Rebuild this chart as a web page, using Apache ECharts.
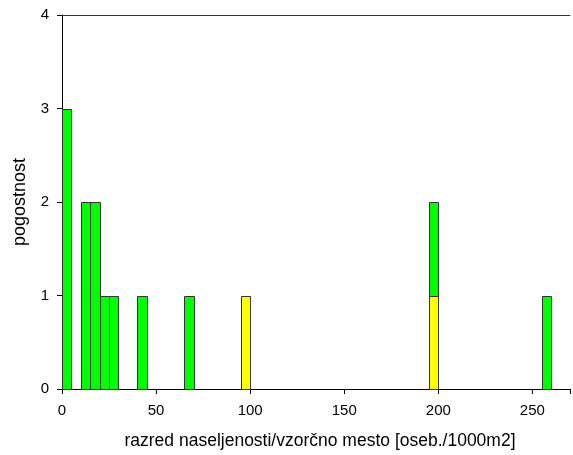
<!DOCTYPE html>
<html><head><meta charset="utf-8">
<script src="https://cdn.jsdelivr.net/npm/echarts@6/dist/echarts.min.js"></script>
<style>html,body{margin:0;padding:0;background:#fff}#c{width:573px;height:455px}</style>
</head><body><div id="c"></div>
<script>
const binStarts = [0, 10, 15, 20, 25, 40, 65, 95, 195, 255];
const binWidth = 5;
const greenCounts = [3, 2, 2, 1, 1, 1, 1, 0, 1, 1];
const yellowCounts = [0, 0, 0, 0, 0, 0, 0, 1, 1, 0];
const xTicks = [0, 50, 100, 150, 200, 250];
const yTicks = [0, 1, 2, 3, 4];

const yellowData = [], greenData = [];
binStarts.forEach((s, i) => {
  if (yellowCounts[i] > 0) yellowData.push([s, s + binWidth, 0, yellowCounts[i]]);
  if (greenCounts[i] > 0) greenData.push([s, s + binWidth, yellowCounts[i], yellowCounts[i] + greenCounts[i]]);
});

function renderRect(params, api) {
  const p0 = api.coord([api.value(0), api.value(2)]);
  const p1 = api.coord([api.value(1), api.value(3)]);
  const x = Math.round(p0[0]) + 0.5, x2 = Math.round(p1[0]) + 0.5;
  const y = Math.round(p1[1]) + 0.5, y2 = Math.round(p0[1]) + 0.5;
  return {
    type: 'rect',
    shape: { x: x, y: y, width: x2 - x, height: y2 - y },
    style: { fill: api.visual('color'), stroke: '#333', lineWidth: 1 }
  };
}

const font = 'Liberation Sans, Arial, sans-serif';
const chart = echarts.init(document.getElementById('c'), null, { renderer: 'canvas' });
chart.setOption({
  animation: false,
  grid: { left: 62, top: 15, right: 0, bottom: 66, containLabel: false },
  xAxis: [{
    type: 'value', min: 0, max: 270, interval: 50,
    name: 'razred naseljenosti/vzorčno mesto [oseb./1000m2]',
    nameLocation: 'middle', nameGap: 43,
    nameTextStyle: { fontFamily: font, fontSize: 17.5, color: '#000', padding: [0, 0, 0, 8] },
    axisLine: { show: true, lineStyle: { color: '#000', width: 1 } },
    axisTick: { show: true, length: 5, lineStyle: { color: '#000' } },
    axisLabel: { fontFamily: font, fontSize: 15, color: '#000', margin: 14,
      formatter: v => xTicks.includes(v) ? String(v) : '' },
    splitLine: { show: false }
  }, {
    type: 'value', min: 0, max: 270, position: 'top',
    axisLine: { show: true, lineStyle: { color: '#333', width: 1 } },
    axisTick: { show: false }, axisLabel: { show: false }, splitLine: { show: false }
  }],
  yAxis: {
    type: 'value', min: 0, max: 4, interval: 1,
    name: 'pogostnost', nameLocation: 'middle', nameGap: 33,
    nameTextStyle: { fontFamily: font, fontSize: 18, color: '#000' },
    axisLine: { show: true, lineStyle: { color: '#000', width: 1 } },
    axisTick: { show: true, length: 5, lineStyle: { color: '#000' } },
    axisLabel: { fontFamily: font, fontSize: 15, color: '#000', margin: 13,
      formatter: v => yTicks.includes(v) ? String(v) : '' },
    splitLine: { show: false }
  },
  series: [
    { name: 'yellow', type: 'custom', xAxisIndex: 0, renderItem: renderRect, data: yellowData,
      itemStyle: { color: '#ffff00' }, encode: { x: [0, 1], y: [2, 3] } },
    { name: 'green', type: 'custom', xAxisIndex: 0, renderItem: renderRect, data: greenData,
      itemStyle: { color: '#00ff00' }, encode: { x: [0, 1], y: [2, 3] } }
  ]
});
</script></body></html>
